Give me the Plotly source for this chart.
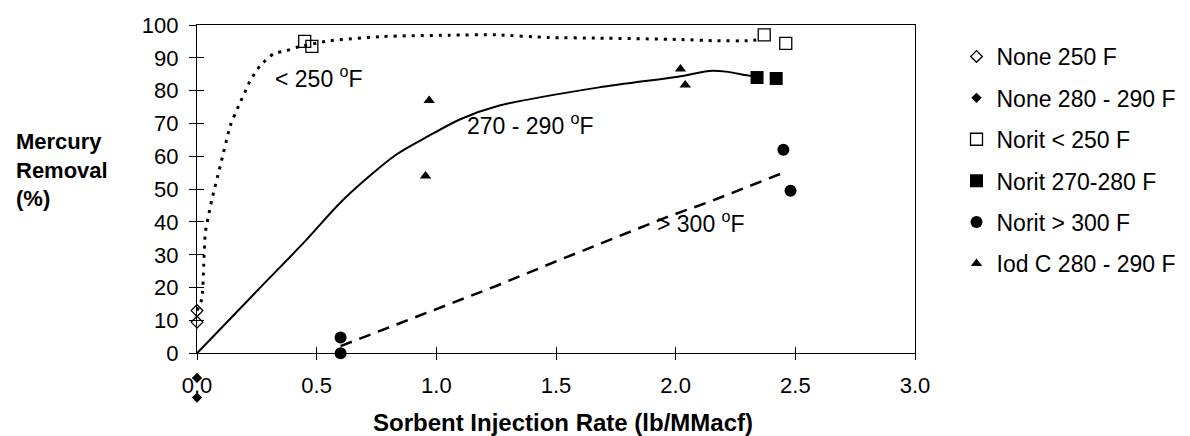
import plotly.graph_objects as go

# ---- data ----
none250_x = [0.0, 0.0]
none250_y = [13.0, 9.5]

none280_x = [0.0, 0.0]
none280_y = [-7.5, -13.5]

norit250_x = [0.45, 0.48, 2.37, 2.46]
norit250_y = [95.0, 93.5, 97.0, 94.4]

norit270_x = [2.34, 2.42]
norit270_y = [84.0, 83.7]

norit300_x = [0.60, 0.60, 2.45, 2.48]
norit300_y = [4.8, 0.0, 62.0, 49.5]

iodc_x = [0.97, 0.955, 2.02, 2.04]
iodc_y = [77.0, 54.0, 86.6, 81.7]

# trend curves
curve250_x = [0.0, 0.02, 0.028, 0.035, 0.055, 0.0625, 0.097, 0.139, 0.174, 0.20, 0.222,
              0.264, 0.32, 0.375, 0.417, 0.555, 0.777, 1.05, 1.25, 1.47, 1.68, 2.01, 2.17, 2.30, 2.35]
curve250_y = [13.0, 16.5, 26.6, 36.8, 44.4, 47.0, 57.0, 69.3, 75.4, 79.5, 83.0,
              87.6, 91.2, 92.2, 93.2, 95.2, 96.5, 96.9, 97.0, 96.2, 96.0, 95.6, 95.2, 95.2, 95.5]

curve270_x = [0.0, 0.264, 0.45, 0.61, 0.83, 0.97, 1.10, 1.26, 1.68, 2.03, 2.14, 2.21, 2.29, 2.34]
curve270_y = [0.0, 20.0, 34.0, 46.7, 60.4, 66.3, 71.3, 75.4, 81.0, 84.5, 86.0, 85.8, 84.8, 84.2]

curve300_x = [0.60, 1.25, 1.50, 1.96, 2.15, 2.45]
curve300_y = [2.2, 20.5, 28.0, 41.4, 46.4, 55.0]

x_ticks = [0.0, 0.5, 1.0, 1.5, 2.0, 2.5, 3.0]
x_ticklabels = ["0.0", "0.5", "1.0", "1.5", "2.0", "2.5", "3.0"]
y_ticks = [0, 10, 20, 30, 40, 50, 60, 70, 80, 90, 100]

FONT = "Arial, Liberation Sans, sans-serif"
BLACK = "black"
CLEAR = "rgba(0,0,0,0)"

# geometry: plotting region spans px 25..416 vertically; main axes occupy the upper part
W, H, T, B, L, R = 1190, 436, 25, 20, 197, 275
area_h = H - T - B
area_w = W - L - R
y0_px = 353.3                      # pixel row of y = 0
main_bottom = (H - B - y0_px) / area_h
px_per_unit = (y0_px - T) / 100.0
ext_low = -(H - B - y0_px) / px_per_unit

fig = go.Figure()

# curves (no legend)
fig.add_trace(go.Scatter(x=curve250_x, y=curve250_y, mode="lines", showlegend=False,
                         line=dict(color=BLACK, width=3, dash="3px,6px", shape="spline", smoothing=0.6),
                         hoverinfo="skip"))
fig.add_trace(go.Scatter(x=curve270_x, y=curve270_y, mode="lines", showlegend=False,
                         line=dict(color=BLACK, width=2, shape="spline", smoothing=0.8), hoverinfo="skip"))
fig.add_trace(go.Scatter(x=curve300_x, y=curve300_y, mode="lines", showlegend=False,
                         line=dict(color=BLACK, width=2.5, dash="12px,8px"), hoverinfo="skip"))

series = [
    ("None 250 F", none250_x, none250_y, dict(symbol="diamond-open", size=9, color=BLACK, line=dict(width=1.3, color=BLACK)), "y"),
    ("None 280 - 290 F", none280_x, none280_y, dict(symbol="diamond", size=8, color=BLACK), "y3"),
    ("Norit < 250 F", norit250_x, norit250_y, dict(symbol="square-open", size=12, color=BLACK, line=dict(width=1.3, color=BLACK)), "y"),
    ("Norit 270-280 F", norit270_x, norit270_y, dict(symbol="square", size=13, color=BLACK), "y"),
    ("Norit > 300 F", norit300_x, norit300_y, dict(symbol="circle", size=12, color=BLACK), "y"),
    ("Iod C 280 - 290 F", iodc_x, iodc_y, dict(symbol="triangle-up", size=10, color=BLACK), "y"),
]
for i, (name, xs, ys, mk, yax) in enumerate(series):
    fig.add_trace(go.Scatter(x=xs, y=ys, mode="markers", name=name, marker=mk, yaxis=yax,
                             legendgroup=f"g{i}", cliponaxis=False))

# curve labels
ann_font = dict(family=FONT, size=23, color=BLACK)
fig.add_annotation(x=0.318, y=84.1, text="< 250 <sup>o</sup>F", showarrow=False,
                   xanchor="left", yanchor="middle", font=ann_font)
fig.add_annotation(x=1.12, y=69.8, text="270 - 290 <sup>o</sup>F", showarrow=False,
                   xanchor="left", yanchor="middle", font=ann_font)
fig.add_annotation(x=1.915, y=40.0, text="> 300 <sup>o</sup>F", showarrow=False,
                   xanchor="left", yanchor="middle", font=ann_font)

# y-axis title as left-aligned block
fig.add_annotation(xref="paper", yref="paper", x=-0.255, y=(H - B - 170) / area_h,
                   text="<b>Mercury<br>Removal<br>(%)</b>", showarrow=False, align="left",
                   xanchor="left", yanchor="middle",
                   font=dict(family=FONT, size=22, color=BLACK))

# x-axis title
fig.add_annotation(xref="paper", yref="paper", x=(563 - L) / area_w, y=(H - B - 422) / area_h,
                   text="<b>Sorbent Injection Rate (lb/MMacf)</b>", showarrow=False,
                   xanchor="center", yanchor="middle",
                   font=dict(family=FONT, size=24, color=BLACK))

tick_font = dict(family=FONT, size=22, color=BLACK)

fig.update_layout(
    width=W, height=H,
    margin=dict(l=L, r=R, t=T, b=B, autoexpand=False),
    paper_bgcolor="white", plot_bgcolor=CLEAR,
    font=dict(family=FONT, color=BLACK),
    xaxis=dict(range=[0, 3.0], tickvals=x_ticks, ticktext=x_ticklabels, anchor="y",
               showgrid=False, zeroline=False, showline=True, linecolor=BLACK, linewidth=1.3,
               mirror=True, ticks="outside", ticklen=6, tickwidth=1.2, tickcolor=BLACK,
               tickfont=tick_font, ticklabelstandoff=6, automargin=False),
    yaxis=dict(range=[0, 100], tickvals=y_ticks, domain=[main_bottom, 1],
               showgrid=False, zeroline=False, showline=True, linecolor=BLACK, linewidth=1.3,
               mirror=True, ticks="outside", ticklen=7, tickwidth=1.2, tickcolor=BLACK,
               tickfont=tick_font, ticklabelstandoff=6, automargin=False),
    xaxis2=dict(range=[0, 3.0], tickvals=x_ticks, overlaying="x", side="bottom",
                showticklabels=False, showgrid=False, zeroline=False, showline=False,
                ticks="inside", ticklen=6, tickwidth=1.2, tickcolor=BLACK, anchor="y"),
    yaxis2=dict(range=[0, 100], tickvals=y_ticks, overlaying="y", side="left",
                showticklabels=False, showgrid=False, zeroline=False, showline=False,
                ticks="inside", ticklen=7, tickwidth=1.2, tickcolor=BLACK, anchor="x"),
    yaxis3=dict(range=[ext_low, 100], domain=[0, 1], anchor="x", visible=False,
                showgrid=False, zeroline=False),
    legend=dict(xref="container", yref="container", x=956.5 / W, y=1 - 35 / H,
                xanchor="left", yanchor="top", maxheight=400,
                font=dict(family=FONT, size=23, color=BLACK),
                tracegroupgap=8.5, bgcolor=CLEAR),
    showlegend=True,
)

# invisible helper trace so the secondary tick axes are rendered
fig.add_trace(go.Scatter(x=[None], y=[None], xaxis="x2", yaxis="y2", showlegend=False,
                         mode="markers", hoverinfo="skip"))

fig.write_html("out.html")
